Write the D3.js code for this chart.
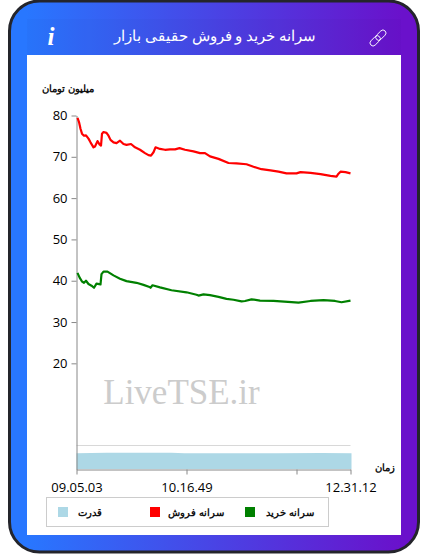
<!DOCTYPE html>
<html lang="fa">
<head>
<meta charset="utf-8">
<script src="https://cdn.jsdelivr.net/npm/d3@7"></script>
<style>
html,body{margin:0;padding:0;background:#fff;overflow:hidden}
svg{display:block}
text{font-family:"Open Sans","Noto Sans",sans-serif}
</style>
</head>
<body>
<svg id="c" width="428" height="559"></svg>
<script>
const titleText = "سرانه خرید و فروش حقیقی بازار";
const yAxisLabel = "میلیون تومان";
const xAxisLabel = "زمان";
const watermark = "LiveTSE.ir";
const yTicks = [20,30,40,50,60,70,80];
const xTickRecords = [0,110,220,274];
const xTickLabels = ["09.05.03","10.16.49","","12.31.12"];
const legendNames = ["سرانه خرید","سرانه فروش","قدرت"];

const sellRecords = [1,2.5,4,5.5,7.5,9.5,12,14,17,18.5,21,23,24.5,25.5,27,30,32,34,37,40,43.5,47,50,54.5,58.5,63.5,68.5,72,74.5,77,79,83.5,88.5,93.5,98.5,103,108.5,117,123.5,128.5,133.5,142,152,160,170,177,185,194,202,210,220,224,234,244,254,260,262,264,269,274];
const sellValues = [79.4,78.4,76.8,75.6,75.1,75.2,74.4,73.5,72.3,72.5,73.8,73,72.7,75.6,76,75.8,75.1,74.1,73.5,73.3,73.9,73.1,72.9,73.1,72.3,71.7,70.9,70.4,70.3,71.1,72.3,71.9,71.7,71.8,71.8,72.1,71.7,71.3,70.9,70.9,70.1,69.5,68.5,68.4,68.2,67.6,67,66.7,66.4,66,66,66.3,66.1,65.8,65.4,65.2,65.9,66.4,66.3,66];
const buyRecords = [1,3,5.5,7.5,9.5,12,15,17.5,20,24,25,27,31,37,43.5,50,60,67,73,74,76,83.5,95,110,120,122,127,133.5,142,150,157,165,168.5,175,183.5,197,215,222,234,247,258.5,265,274];
const buyValues = [41.9,40.8,39.8,39.5,40,39.2,38.8,38.3,39.3,39.1,41.6,42.2,42.2,41.3,40.5,39.9,39.5,39,38.5,38.3,38.9,38.4,37.7,37.2,36.6,36.4,36.7,36.5,36.1,35.6,35.4,35,35.1,35.5,35.2,35.1,34.8,34.7,35.1,35.3,35.1,34.8,35.2];
const powerRecords = [0,15,30,60,95,108,150,200,245,275];
const powerValues = [66,67,68,68,68,66,66,66,67,66];

const svg = d3.select("#c");
const defs = svg.append("defs");
const grad = defs.append("linearGradient").attr("id","cardGrad").attr("x1","0").attr("x2","1").attr("y1","0").attr("y2","0");
grad.append("stop").attr("offset","0.04").attr("stop-color","#2877ff");
grad.append("stop").attr("offset","0.96").attr("stop-color","#6a11cb");

// Card
svg.append("rect").attr("x",9.5).attr("y",1).attr("width",409).attr("height",551).attr("rx",30)
  .attr("fill","url(#cardGrad)").attr("stroke","#24252b").attr("stroke-width",3);
svg.append("rect").attr("x",27).attr("y",19).attr("width",374).attr("height",36).attr("fill","#000").attr("opacity",0.02);
svg.append("rect").attr("x",27).attr("y",55).attr("width",374).attr("height",480).attr("fill","#fff");

// Header
svg.append("text").attr("x",215).attr("y",41).attr("text-anchor","middle").attr("direction","rtl")
  .attr("fill","#fff").attr("font-size",14.8).text(titleText);
svg.append("text").attr("x",51).attr("y",45).attr("text-anchor","middle").attr("fill","#fff")
  .style("font-family","'Liberation Serif',serif").attr("font-size",25).attr("font-weight","bold").attr("font-style","italic").text("i");
const link = svg.append("g").attr("transform","translate(378,38) rotate(-45)").attr("fill","none").attr("stroke","#fff").attr("stroke-width",0.9);
link.append("rect").attr("x",-10).attr("y",-3).attr("width",12).attr("height",6).attr("rx",3);
link.append("rect").attr("x",-2).attr("y",-3).attr("width",12).attr("height",6).attr("rx",3);

// Scales
const x = d3.scaleLinear().domain([0,274]).range([76.5,350.5]);
const y = d3.scaleLinear().domain([-5.7,80]).range([469.5,115.5]);
const yPower = d3.scaleLinear().domain([0,100]).range([469,445]);

// Watermark
svg.append("text").attr("x",181.5).attr("y",404).attr("text-anchor","middle").attr("fill","#cccccc")
  .style("font-family","'Liberation Serif',serif").attr("font-size",35).text(watermark);

// Power panel
svg.append("line").attr("x1",x(0)).attr("x2",x(274)).attr("y1",yPower(100)+0.5).attr("y2",yPower(100)+0.5).attr("stroke","#d8d8d8");
svg.append("path").datum(d3.zip(powerRecords,powerValues))
  .attr("fill","#add8e6")
  .attr("d",d3.area().x(d=>x(d[0])).y0(yPower(0)).y1(d=>yPower(d[1])));

// Axes
const axY = svg.append("g").attr("transform","translate(76.5,0)")
  .call(d3.axisLeft(y).tickValues(yTicks).tickSize(5).tickSizeOuter(0).tickPadding(4));
const axX = svg.append("g").attr("transform","translate(0,469.5)")
  .call(d3.axisBottom(x).tickValues(xTickRecords).tickFormat((d,i)=>xTickLabels[i]).tickSize(5).tickSizeOuter(0).tickPadding(8));
[axY,axX].forEach(a=>{
  a.selectAll("path,line").attr("stroke","#888");
  a.selectAll("text").attr("fill","#000").attr("font-size",13).style("font-family","'Open Sans',sans-serif");
});

// Lines
const line = d3.line().x(d=>x(d[0])).y(d=>y(d[1]));
svg.append("path").datum(d3.zip(sellRecords,sellValues)).attr("fill","none").attr("stroke","#ff0000").attr("stroke-width",2.2).attr("stroke-linejoin","round").attr("d",line);
svg.append("path").datum(d3.zip(buyRecords,buyValues)).attr("fill","none").attr("stroke","#008000").attr("stroke-width",2.2).attr("stroke-linejoin","round").attr("d",line);

// Axis titles
svg.append("text").attr("x",94).attr("y",92).attr("text-anchor","end").attr("font-size",10).attr("font-weight","bold").attr("fill","#111").text(yAxisLabel);
svg.append("text").attr("x",395).attr("y",471).attr("text-anchor","end").attr("font-size",10).attr("font-weight","bold").attr("fill","#111").text(xAxisLabel);

// Legend
svg.append("rect").attr("x",46.5).attr("y",497.5).attr("width",282).attr("height",29).attr("fill","#fff").attr("stroke","#ccc");
const legendColors = ["#008000","#ff0000","#add8e6"];
const legendSwatchX = [245,150,58];
const legendTextX = [314,224,102];
legendNames.forEach((n,i)=>{
  svg.append("rect").attr("x",legendSwatchX[i]).attr("y",507).attr("width",10).attr("height",10).attr("fill",legendColors[i]);
  svg.append("text").attr("x",legendTextX[i]).attr("y",516).attr("text-anchor","end").attr("font-size",10).attr("font-weight","bold").attr("fill","#111").text(n);
});
</script>
</body>
</html>
